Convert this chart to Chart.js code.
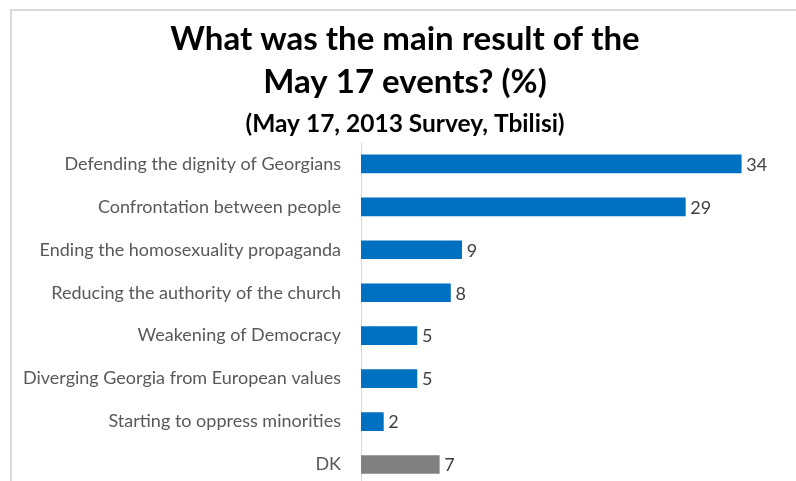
<!DOCTYPE html>
<html>
<head>
<meta charset="utf-8">
<script src="https://cdn.jsdelivr.net/npm/chart.js@4"></script>
<style>
  html, body { margin: 0; padding: 0; background: #fff; overflow: hidden; width: 796px; height: 481px; }
  #frame { position: absolute; left: 10px; top: 9px; right: 0; bottom: -20px; border-top: 2px solid #d9d9d9; border-left: 2px solid #d9d9d9; }
  #wrap { position: absolute; left: 0; top: 0; width: 796px; height: 490px; }
</style>
</head>
<body>
<div id="frame"></div>
<div id="wrap"><canvas id="c"></canvas></div>
<script>
const titleLines = ['What was the main result of the', 'May 17 events? (%)'];
const subtitleText = '(May 17, 2013 Survey, Tbilisi)';
const categories = [
  'Defending the dignity of Georgians',
  'Confrontation between people',
  'Ending the homosexuality propaganda',
  'Reducing the authority of the church',
  'Weakening of Democracy',
  'Diverging Georgia from European values',
  'Starting to oppress minorities',
  'DK'
];
const values = [34, 29, 9, 8, 5, 5, 2, 7];
const barColors = ['#0070C0', '#0070C0', '#0070C0', '#0070C0', '#0070C0', '#0070C0', '#0070C0', '#808080'];

const valueLabels = {
  id: 'valueLabels',
  afterDatasetsDraw(chart) {
    const ctx = chart.ctx;
    const meta = chart.getDatasetMeta(0);
    ctx.save();
    ctx.font = '18px Lato';
    ctx.fillStyle = '#404040';
    ctx.textAlign = 'left';
    ctx.textBaseline = 'middle';
    meta.data.forEach((bar, i) => {
      ctx.fillText(String(values[i]), bar.x + 5, bar.y + 1);
    });
    ctx.restore();
  }
};

new Chart(document.getElementById('c'), {
  type: 'bar',
  data: {
    labels: categories,
    datasets: [{
      data: values,
      backgroundColor: barColors,
      borderWidth: 0,
      barThickness: 18
    }]
  },
  options: {
    indexAxis: 'y',
    responsive: true,
    maintainAspectRatio: false,
    animation: false,
    devicePixelRatio: 1,
    layout: { autoPadding: false, padding: { top: 18, left: 24, right: 10, bottom: 4 } },
    plugins: {
      legend: { display: false },
      tooltip: { enabled: false },
      title: {
        display: true,
        text: titleLines,
        color: '#000',
        font: { family: 'Lato', size: 33, weight: 'bold', lineHeight: '43px' },
        padding: { top: 0, bottom: 0 }
      },
      subtitle: {
        display: true,
        text: subtitleText,
        color: '#000',
        font: { family: 'Lato', size: 24.5, weight: 'bold', lineHeight: 1.2 },
        padding: { top: 5, bottom: 4 }
      }
    },
    scales: {
      x: {
        display: false,
        min: 0,
        max: 38
      },
      y: {
        afterFit(scale) {
          scale.width = 337;
          scale.paddingTop = 0;
          scale.paddingBottom = 0;
        },
        grid: { display: false, drawTicks: false },
        border: { display: true, color: '#d9d9d9', width: 1 },
        ticks: {
          padding: 20,
          color: '#595959',
          font: { family: 'Lato', size: 18 }
        }
      }
    }
  },
  plugins: [valueLabels]
});
</script>
</body>
</html>
